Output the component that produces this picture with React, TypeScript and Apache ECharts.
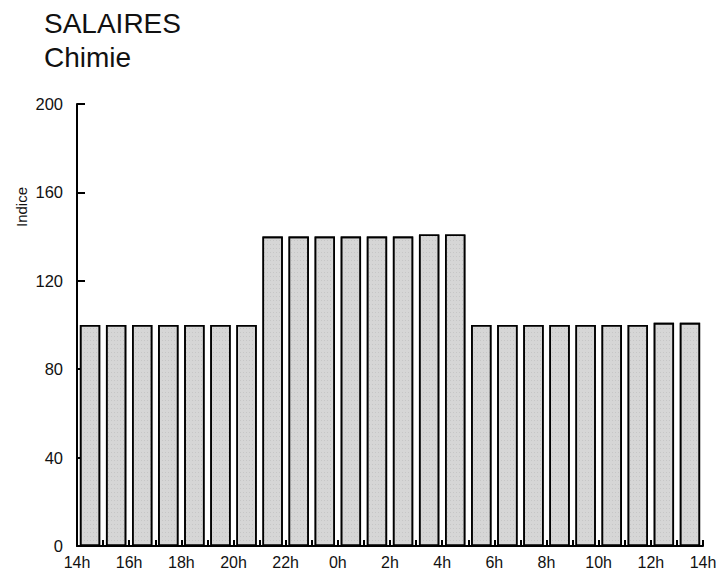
import React, { useEffect, useRef } from "react";
import * as echarts from "echarts";

const hours = ["14h","15h","16h","17h","18h","19h","20h","21h","22h","23h","0h","1h","2h","3h","4h","5h","6h","7h","8h","9h","10h","11h","12h","13h"];
const indice = [100,100,100,100,100,100,100,140,140,140,140,140,140,141,141,100,100,100,100,100,100,100,101,101];
const tickLabels = ["14h","16h","18h","20h","22h","0h","2h","4h","6h","8h","10h","12h","14h"];
const yTicks = [0, 40, 80, 120, 160, 200];

export default function App() {
  const ref = useRef<HTMLDivElement>(null);
  useEffect(() => {
    if (!ref.current) return;
    const chart = echarts.init(ref.current, undefined, { renderer: "svg" });
    const font = "Liberation Sans, Arial, sans-serif";
    chart.setOption({
      animation: false,
      backgroundColor: "#fff",
      textStyle: { fontFamily: font },
      grid: { left: 77, right: 21, top: 104, bottom: 33, containLabel: false },
      graphic: [
        { type: "text", left: 44, top: 9, style: { text: "SALAIRES", font: "28px " + font, fill: "#111" } },
        { type: "text", left: 44, top: 43, style: { text: "Chimie", font: "28px " + font, fill: "#111" } },
        { type: "text", x: 21, y: 207, rotation: Math.PI / 2, style: { text: "Indice", font: "15px " + font, fill: "#111", align: "center", verticalAlign: "middle" } },
      ],
      xAxis: [
        {
          type: "category",
          data: hours,
          boundaryGap: true,
          axisLine: { show: true, lineStyle: { color: "#000", width: 2 } },
          axisTick: { show: true, inside: true, length: 6, alignWithLabel: false, interval: 0, lineStyle: { color: "#000", width: 2 } },
          axisLabel: { show: false },
          z: 10,
        },
        {
          type: "value",
          min: 0,
          max: 24,
          interval: 2,
          position: "bottom",
          axisLine: { show: false },
          axisTick: { show: false },
          splitLine: { show: false },
          axisLabel: {
            show: true,
            margin: 8,
            fontSize: 16,
            color: "#111",
            fontFamily: font,
            formatter: (v: number) => tickLabels[Math.round(v / 2)] ?? "",
          },
        },
      ],
      yAxis: {
        type: "value",
        min: 0,
        max: 200,
        interval: 40,
        axisLine: { show: true, lineStyle: { color: "#000", width: 2 } },
        axisTick: { show: true, inside: true, length: 8, lineStyle: { color: "#000", width: 2 } },
        splitLine: { show: false },
        axisLabel: {
          margin: 14,
          fontSize: 16.5,
          color: "#111",
          fontFamily: font,
          formatter: (v: number) => (yTicks.includes(v) ? String(v) : ""),
        },
      },
      series: [
        {
          type: "bar",
          xAxisIndex: 0,
          data: indice,
          barCategoryGap: "22%",
          itemStyle: {
            color: "#d6d6d6",
            borderColor: "#000",
            borderWidth: 1.6,
            decal: {
              symbol: "rect",
              symbolSize: 0.6,
              dashArrayX: [1, 2],
              dashArrayY: [1, 3],
              color: "rgba(90,90,90,0.45)",
              rotation: 0,
            },
          },
          silent: true,
        },
      ],
    });
    return () => chart.dispose();
  }, []);
  return <div ref={ref} style={{ width: 724, height: 579, position: "absolute", left: 0, top: 0 }} />;
}
